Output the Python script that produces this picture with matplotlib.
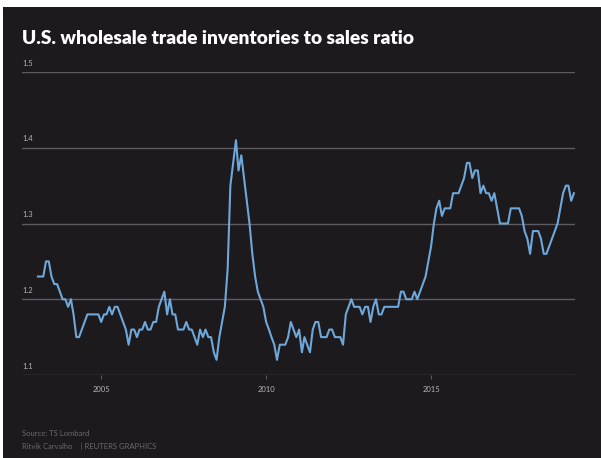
import numpy as np
import pandas as pd
import matplotlib
matplotlib.use("Agg")
import matplotlib.pyplot as plt
import matplotlib.dates as mdates
from matplotlib.patches import Rectangle

# monthly ratio, Feb 2003 .. May 2019
start_month = "2003-02-01"
ratio = [
    1.23, 1.23, 1.23, 1.25, 1.25, 1.23, 1.22, 1.22, 1.21, 1.20, 1.20, 1.19,
    1.20, 1.18, 1.15, 1.15, 1.16, 1.17, 1.18, 1.18, 1.18, 1.18, 1.18, 1.17,
    1.18, 1.18, 1.19, 1.18, 1.19, 1.19, 1.18, 1.17, 1.16, 1.14, 1.16, 1.16,
    1.15, 1.16, 1.16, 1.17, 1.16, 1.16, 1.17, 1.17, 1.19, 1.20, 1.21, 1.18,
    1.20, 1.18, 1.18, 1.16, 1.16, 1.16, 1.17, 1.16, 1.16, 1.15, 1.14, 1.16,
    1.15, 1.16, 1.15, 1.15, 1.13, 1.12, 1.15, 1.17, 1.19, 1.24, 1.35, 1.38,
    1.41, 1.37, 1.39, 1.36, 1.33, 1.30, 1.26, 1.23, 1.21, 1.20, 1.19, 1.17,
    1.16, 1.15, 1.14, 1.12, 1.14, 1.14, 1.14, 1.15, 1.17, 1.16, 1.15, 1.16,
    1.13, 1.15, 1.14, 1.13, 1.16, 1.17, 1.17, 1.15, 1.15, 1.15, 1.16, 1.16,
    1.15, 1.15, 1.15, 1.14, 1.18, 1.19, 1.20, 1.19, 1.19, 1.19, 1.18, 1.19,
    1.19, 1.17, 1.19, 1.20, 1.18, 1.18, 1.19, 1.19, 1.19, 1.19, 1.19, 1.19,
    1.21, 1.21, 1.20, 1.20, 1.20, 1.21, 1.20, 1.21, 1.22, 1.23, 1.25, 1.27,
    1.30, 1.32, 1.33, 1.31, 1.32, 1.32, 1.32, 1.34, 1.34, 1.34, 1.35, 1.36,
    1.38, 1.38, 1.36, 1.37, 1.37, 1.34, 1.35, 1.34, 1.34, 1.33, 1.34, 1.32,
    1.30, 1.30, 1.30, 1.30, 1.32, 1.32, 1.32, 1.32, 1.31, 1.29, 1.28, 1.26,
    1.29, 1.29, 1.29, 1.28, 1.26, 1.26, 1.27, 1.28, 1.29, 1.30, 1.32, 1.34,
    1.35, 1.35, 1.33, 1.34,
]
y_ticks = [1.1, 1.2, 1.3, 1.4, 1.5]
x_tick_years = [2005, 2010, 2015]

dates = pd.date_range(start_month, periods=len(ratio), freq="MS")

BG = "#1c1a1d"
LINE = "#6ea8da"
GRID = "#5e5c60"
LABEL = "#b5b3b7"
FOOT = "#6a686c"

fig = plt.figure(figsize=(6.01, 4.58), dpi=100, facecolor="white")
fig.patches.append(Rectangle((3 / 601, 0), 1, (458 - 7) / 458,
                             transform=fig.transFigure, facecolor=BG,
                             edgecolor="none", zorder=-10))

ax = fig.add_axes([22 / 601, 83 / 458, 553 / 601, 303 / 458])
ax.patch.set_visible(False)

ax.plot(dates, ratio, color=LINE, linewidth=1.5, zorder=3)

d0 = mdates.date2num(dates[0])
month = 30.44
ax.set_xlim(d0 - 5.8 * month, d0 + 195.3 * month)
ax.set_ylim(1.1, 1.5)

for s in ax.spines.values():
    s.set_visible(False)

for v in y_ticks:
    ax.axhline(v, color=GRID, linewidth=1.0, zorder=1)
    ax.text(0, v + 0.007, f"{v:.1f}", transform=ax.get_yaxis_transform(),
            color=LABEL, fontsize=5.5, ha="left", va="bottom", family="Lato")
ax.set_yticks([])

ax.set_xticks([pd.Timestamp(f"{y}-01-01") for y in x_tick_years])
ax.set_xticklabels([str(y) for y in x_tick_years])
ax.tick_params(axis="x", colors=GRID, length=3, width=0.8, pad=5,
               labelcolor=LABEL, labelsize=5.5)
for lab in ax.get_xticklabels():
    lab.set_family("Lato")

fig.text(22 / 601, 1 - 38 / 458, "U.S. wholesale trade inventories to sales ratio",
         color="white", fontsize=13.8, fontweight="heavy", family="Lato",
         ha="left", va="center")
fig.text(22 / 601, 1 - 433 / 458, "Source: TS Lombard", color=FOOT,
         fontsize=5.5, family="Lato", ha="left", va="center")
fig.text(22 / 601, 1 - 446 / 458, "Ritvik Carvalho    | REUTERS GRAPHICS",
         color=FOOT, fontsize=5.5, family="Lato", ha="left", va="center")

fig.savefig("out.png", dpi=100, facecolor=fig.get_facecolor())
